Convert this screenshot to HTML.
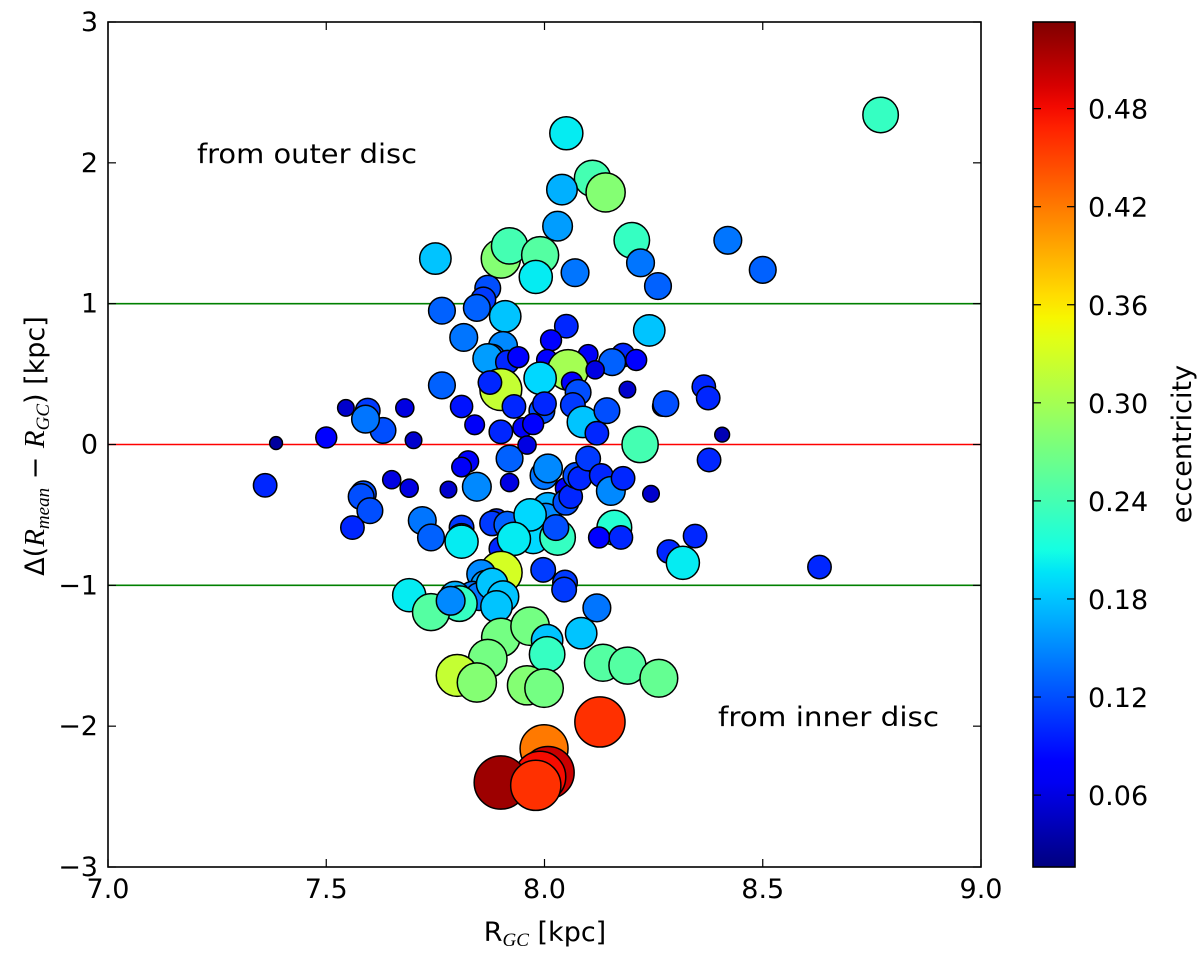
<!DOCTYPE html>
<html><head><meta charset="utf-8">
<style>
html,body{margin:0;padding:0;background:#fff;}
svg{display:block;font-family:"DejaVu Sans","Liberation Sans",sans-serif;}
</style></head>
<body>
<svg id="chart" width="1200" height="954" viewBox="0 0 1200 954" xmlns="http://www.w3.org/2000/svg">
<defs>
<linearGradient id="jetgrad" x1="0" y1="1" x2="0" y2="0"></linearGradient>
<clipPath id="plotclip"><rect x="108" y="22" width="873" height="845"/></clipPath>
</defs>
<g id="plot"></g>
<g id="cbar"></g>
<text x="197" y="163" font-size="27" textLength="220" lengthAdjust="spacingAndGlyphs">from outer disc</text>
<text x="718" y="726" font-size="27" textLength="221" lengthAdjust="spacingAndGlyphs">from inner disc</text>
<text x="545" y="941" text-anchor="middle" font-size="27">R<tspan font-family="Liberation Serif, serif" font-style="italic" font-size="19" dy="5">GC</tspan><tspan dy="-5"> [kpc]</tspan></text>
<text transform="translate(44,446) rotate(-90)" text-anchor="middle" font-size="27">Δ(<tspan font-family="Liberation Serif, serif" font-style="italic" font-size="29">R</tspan><tspan font-family="Liberation Serif, serif" font-style="italic" font-size="19" dy="5">mean</tspan><tspan dy="-5"> − </tspan><tspan font-family="Liberation Serif, serif" font-style="italic" font-size="29">R</tspan><tspan font-family="Liberation Serif, serif" font-style="italic" font-size="19" dy="5">GC</tspan><tspan dy="-5">) [kpc]</tspan></text>
<text transform="translate(1191,444) rotate(-90)" text-anchor="middle" font-size="27">eccentricity</text>
</svg>
<script>
// ---- data ----
const xs = [8.77,8.05,8.11,8.14,8.04,8.03,8.20,8.42,8.50,8.22,8.26,8.07,7.75,7.90,7.92,7.99,7.98,7.87,7.86,7.845,7.765,7.91,8.24,8.05,7.815,7.905,8.015,7.88,7.87,7.915,7.94,8.10,8.18,8.21,8.155,8.006,8.054,8.116,8.19,7.99,8.063,7.90,7.765,7.875,7.595,7.545,7.68,7.63,7.50,7.385,7.70,7.59,7.81,7.84,7.93,7.994,8.00,8.077,8.065,8.088,8.143,8.219,8.27,8.278,8.365,8.375,8.407,8.377,8.244,7.36,7.585,7.58,7.60,7.56,7.65,7.69,7.72,7.74,7.81,7.81,7.81,7.78,7.825,7.845,7.81,7.89,7.90,7.88,7.915,7.92,7.92,7.90,7.95,7.96,7.974,7.999,8.008,8.008,8.003,7.974,7.967,7.93,8.03,8.026,8.049,8.049,8.06,8.072,8.081,8.10,8.13,8.152,8.16,8.125,8.175,8.18,8.12,8.285,8.345,8.317,8.63,7.90,7.997,8.047,8.045,7.855,7.865,7.835,7.85,7.88,7.905,7.89,7.795,7.805,7.69,7.74,7.785,7.90,7.967,8.006,8.006,8.084,8.12,8.134,8.19,8.262,7.87,7.80,7.845,7.96,7.999,8.127,7.999,8.008,7.99,7.90,7.98];
const ys = [2.34,2.21,1.89,1.79,1.81,1.55,1.45,1.45,1.24,1.29,1.125,1.22,1.32,1.32,1.41,1.345,1.19,1.11,1.03,0.97,0.95,0.91,0.81,0.84,0.76,0.70,0.74,0.62,0.61,0.585,0.62,0.64,0.635,0.60,0.585,0.60,0.53,0.53,0.39,0.47,0.44,0.39,0.42,0.44,0.24,0.26,0.26,0.10,0.05,0.01,0.03,0.18,0.27,0.14,0.27,0.24,0.29,0.37,0.28,0.16,0.24,0.00,0.27,0.29,0.41,0.33,0.07,-0.11,-0.35,-0.29,-0.35,-0.37,-0.47,-0.59,-0.25,-0.31,-0.54,-0.66,-0.59,-0.66,-0.69,-0.32,-0.12,-0.30,-0.16,-0.54,-0.74,-0.56,-0.57,-0.10,-0.27,0.09,0.12,-0.004,0.145,-0.22,-0.17,-0.45,-0.52,-0.66,-0.50,-0.67,-0.66,-0.59,-0.31,-0.41,-0.37,-0.22,-0.24,-0.10,-0.22,-0.33,-0.59,-0.66,-0.66,-0.24,0.08,-0.76,-0.65,-0.84,-0.87,-0.91,-0.89,-0.98,-1.03,-0.92,-1.00,-1.07,-1.08,-0.99,-1.08,-1.15,-1.08,-1.13,-1.07,-1.19,-1.11,-1.37,-1.29,-1.39,-1.49,-1.34,-1.16,-1.55,-1.57,-1.66,-1.52,-1.64,-1.69,-1.71,-1.73,-1.97,-2.16,-2.33,-2.36,-2.40,-2.42];
const ecc = [0.23,0.20,0.24,0.28,0.17,0.16,0.23,0.14,0.13,0.14,0.13,0.14,0.18,0.28,0.24,0.25,0.20,0.12,0.11,0.13,0.13,0.18,0.18,0.10,0.14,0.15,0.08,0.12,0.16,0.10,0.08,0.07,0.10,0.08,0.13,0.08,0.30,0.06,0.05,0.19,0.08,0.32,0.13,0.10,0.11,0.05,0.06,0.12,0.08,0.03,0.05,0.14,0.09,0.07,0.10,0.12,0.10,0.12,0.11,0.18,0.12,0.24,0.07,0.12,0.10,0.10,0.04,0.10,0.05,0.10,0.12,0.12,0.12,0.10,0.06,0.06,0.14,0.13,0.11,0.14,0.20,0.05,0.08,0.15,0.07,0.10,0.10,0.11,0.13,0.13,0.06,0.10,0.07,0.06,0.08,0.14,0.15,0.17,0.15,0.19,0.19,0.20,0.23,0.12,0.08,0.12,0.10,0.12,0.10,0.11,0.10,0.15,0.22,0.08,0.10,0.10,0.10,0.10,0.10,0.20,0.10,0.33,0.11,0.11,0.11,0.15,0.16,0.14,0.14,0.18,0.18,0.18,0.17,0.23,0.20,0.25,0.15,0.27,0.27,0.18,0.23,0.18,0.14,0.25,0.25,0.26,0.27,0.32,0.28,0.28,0.27,0.46,0.42,0.50,0.48,0.52,0.46];
const xTicks = [7.0,7.5,8.0,8.5,9.0];
const xTickLabels = ["7.0","7.5","8.0","8.5","9.0"];
const yTicks = [3,2,1,0,-1,-2,-3];
const yTickLabels = ["3","2","1","0","\u22121","\u22122","\u22123"];
const cTicks = [0.06,0.12,0.18,0.24,0.30,0.36,0.42,0.48];
const cTickLabels = ["0.06","0.12","0.18","0.24","0.30","0.36","0.42","0.48"];
const hLines = [1,0,-1];
const hLineColors = ["#008000","#ff0000","#008000"];

// ---- geometry ----
const L=108,R=981,T=22,B=867;
const xMin=7,xMax=9,yMin=-3,yMax=3;
const cMin=0.016,cMax=0.533;
const CL=1033,CR=1075;
function X(v){return L+(v-xMin)/(xMax-xMin)*(R-L);}
function Y(v){return B-(v-yMin)/(yMax-yMin)*(B-T);}
function CY(v){return B-(v-cMin)/(cMax-cMin)*(B-T);}
function interp(pts,t){for(let i=1;i<pts.length;i++){if(t<=pts[i][0]){const a=pts[i-1],b=pts[i];return a[1]+(b[1]-a[1])*(t-a[0])/(b[0]-a[0]);}}return pts[pts.length-1][1];}
function jet(t){t=Math.max(0,Math.min(1,t));
 const r=interp([[0,0],[0.35,0],[0.66,1],[0.89,1],[1,0.5]],t);
 const g=interp([[0,0],[0.125,0],[0.375,1],[0.64,1],[0.91,0],[1,0]],t);
 const b=interp([[0,0.5],[0.11,1],[0.34,1],[0.65,0],[1,0]],t);
 return `rgb(${Math.round(r*255)},${Math.round(g*255)},${Math.round(b*255)})`;}
const NS="http://www.w3.org/2000/svg";
function mk(tag,attrs,parent){const e=document.createElementNS(NS,tag);for(const k in attrs)e.setAttribute(k,attrs[k]);parent.appendChild(e);return e;}

const plot=document.getElementById('plot');
const cbar=document.getElementById('cbar');

hLines.forEach((v,i)=>{
 const l=mk('line',{x1:L,x2:R,y1:Y(v),y2:Y(v),stroke:hLineColors[i],'stroke-width':1.6},plot);
 
 
});
const pg=mk('g',{'clip-path':'url(#plotclip)'},plot);


for(let i=0;i<xs.length;i++){
 const c=mk('circle',{cx:X(xs[i]),cy:Y(ys[i]),r:37*Math.sqrt(ecc[i]),fill:jet((ecc[i]-cMin)/(cMax-cMin)),stroke:'#000','stroke-width':1.5},pg);
 
 
}
const fr=mk('rect',{x:L,y:T,width:R-L,height:B-T,fill:'none',stroke:'#000','stroke-width':1.6},plot);


xTicks.forEach((v,i)=>{
 mk('line',{x1:X(v),x2:X(v),y1:B,y2:B-8,stroke:'#000','stroke-width':1.2},plot);
 mk('line',{x1:X(v),x2:X(v),y1:T,y2:T+8,stroke:'#000','stroke-width':1.2},plot);
 const t=mk('text',{x:X(v),y:B+31,'text-anchor':'middle','font-size':27},plot);
 t.textContent=xTickLabels[i];
 
 
});
yTicks.forEach((v,i)=>{
 mk('line',{x1:L,x2:L+8,y1:Y(v),y2:Y(v),stroke:'#000','stroke-width':1.2},plot);
 mk('line',{x1:R,x2:R-8,y1:Y(v),y2:Y(v),stroke:'#000','stroke-width':1.2},plot);
 const t=mk('text',{x:L-10,y:Y(v)+9,'text-anchor':'end','font-size':27},plot);
 t.textContent=yTickLabels[i];
 
 
});
const grad=document.getElementById('jetgrad');
for(let k=0;k<=40;k++){mk('stop',{offset:(k/40),'stop-color':jet(k/40)},grad);}
const cr=mk('rect',{x:CL,y:T,width:CR-CL,height:B-T,fill:'url(#jetgrad)',stroke:'#000','stroke-width':1.6},cbar);


cTicks.forEach((v,i)=>{
 mk('line',{x1:CL,x2:CL+8,y1:CY(v),y2:CY(v),stroke:'#000','stroke-width':1.2},cbar);
 mk('line',{x1:CR,x2:CR-8,y1:CY(v),y2:CY(v),stroke:'#000','stroke-width':1.2},cbar);
 const t=mk('text',{x:CR+13,y:CY(v)+10,'font-size':27},cbar);
 t.textContent=cTickLabels[i];
 
 
});
</script>
</body></html>
